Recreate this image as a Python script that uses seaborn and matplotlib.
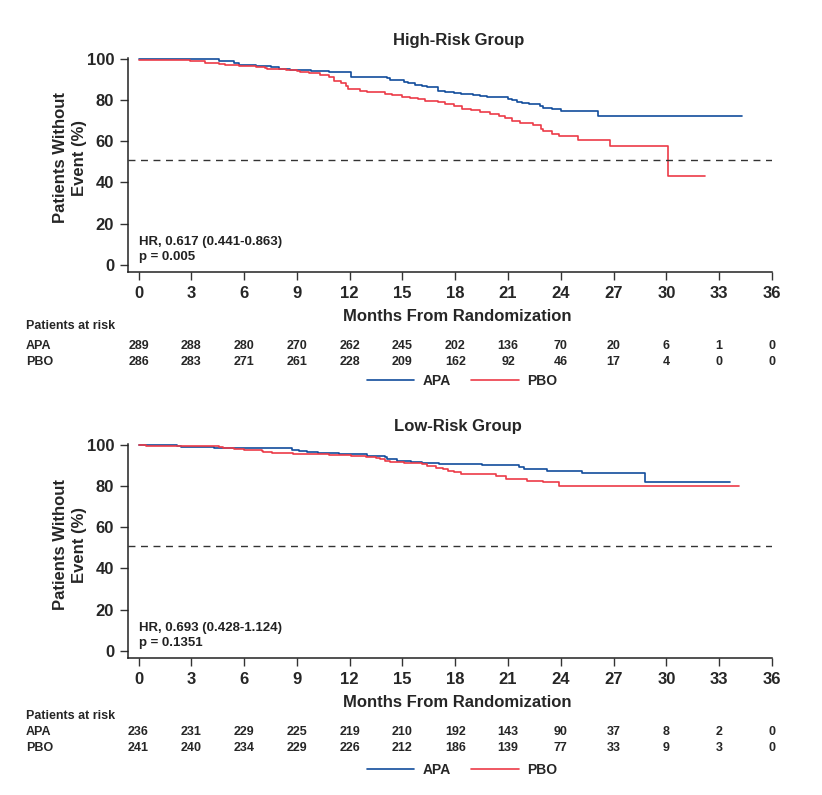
import numpy as np
import pandas as pd
import matplotlib
matplotlib.use('Agg')
import matplotlib.pyplot as plt
import matplotlib.transforms as mtransforms
from matplotlib.lines import Line2D
import seaborn as sns

# curvas KM (meses, % sin evento)
alto_apa_t = [0, 3.9, 4.6, 5.4, 5.7, 6.7, 7.5, 8.0, 8.6, 9.8, 10.8, 12.1, 14.1, 14.3, 15.1, 15.3,
              15.7, 16.1, 16.4, 17.0, 17.4, 17.9, 18.3, 19.0, 19.4, 19.8, 21.0, 21.2, 21.5, 21.8,
              22.2, 22.8, 23.0, 23.5, 24.0, 26.1, 34.3]
alto_apa_v = [100, 99.7, 98.9, 98.1, 97.1, 96.6, 96.1, 95.2, 94.7, 94.2, 93.7, 91.3, 90.7, 89.7, 88.6, 88.1,
              87.4, 86.8, 86.1, 84.2, 83.8, 83.3, 83.0, 82.6, 82.0, 81.3, 80.5, 80.0, 79.2, 78.7,
              78.1, 77.1, 76.2, 75.5, 74.5, 72.0, 72.0]
alto_pbo_t = [0, 1.3, 2.9, 3.8, 4.6, 4.9, 5.7, 6.7, 7.2, 7.3, 8.4, 9.0, 9.2, 9.7, 10.3, 10.8, 11.1,
              11.5, 11.8, 11.9, 12.6, 13.0, 14.0, 14.4, 15.0, 15.4, 15.9, 16.3, 17.0, 17.4, 17.9,
              18.4, 18.9, 19.4, 20.0, 20.5, 20.8, 21.2, 21.7, 22.4, 22.9, 23.0, 23.5, 23.9, 25.0,
              26.8, 30.1, 32.2]
alto_pbo_v = [99.5, 99.2, 98.7, 98.1, 97.4, 97.0, 96.6, 96.1, 95.5, 95.0, 94.7, 94.2, 93.7, 93.1, 92.3, 91.0, 89.3,
              88.0, 86.8, 85.2, 84.5, 83.6, 82.9, 82.4, 81.6, 81.0, 80.4, 79.7, 78.9, 78.1, 77.0,
              75.7, 74.9, 74.1, 73.3, 72.0, 71.3, 70.0, 68.9, 67.6, 66.0, 64.9, 63.6, 62.5, 60.4,
              57.5, 43.0, 43.0]

bajo_apa_t = [0, 2.2, 2.4, 4.3, 8.7, 9.1, 9.6, 10.2, 11.4, 13.0, 14.0, 14.1, 14.7, 15.5, 16.1, 17.1,
              19.5, 21.6, 21.9, 23.2, 25.2, 28.8, 33.6]
bajo_apa_v = [100, 99.4, 98.9, 98.4, 97.6, 97.1, 96.6, 96.0, 95.5, 94.7, 93.9, 93.1, 92.3, 91.8, 91.1, 90.5,
              89.9, 89.0, 88.2, 87.4, 86.3, 81.8, 81.8]
bajo_pbo_t = [0, 0.4, 4.6, 4.8, 5.4, 6.0, 7.0, 7.1, 7.6, 8.8, 10.8, 12.1, 12.9, 13.5, 13.7, 14.0, 14.3,
              15.1, 16.1, 16.4, 16.9, 17.3, 17.6, 17.9, 18.3, 20.3, 20.9, 22.1, 23.0, 23.9, 34.1]
bajo_pbo_v = [100, 99.4, 98.7, 98.2, 97.7, 97.3, 96.8, 96.3, 96.0, 95.5, 95.0, 94.4, 93.9, 93.4, 92.8, 92.3, 91.5,
              91.0, 90.5, 89.4, 88.7, 88.3, 87.4, 86.6, 85.8, 84.7, 83.4, 82.6, 81.8, 79.9, 79.9]

#pacientes en riesgo
meses_ticks = [0, 3, 6, 9, 12, 15, 18, 21, 24, 27, 30, 33, 36]
alto_riesgo_apa = [289, 288, 280, 270, 262, 245, 202, 136, 70, 20, 6, 1, 0]
alto_riesgo_pbo = [286, 283, 271, 261, 228, 209, 162, 92, 46, 17, 4, 0, 0]
bajo_riesgo_apa = [236, 231, 229, 225, 219, 210, 192, 143, 90, 37, 8, 2, 0]
bajo_riesgo_pbo = [241, 240, 234, 229, 226, 212, 186, 139, 77, 33, 9, 3, 0]

titulos = ['High-Risk Group', 'Low-Risk Group']
textos_hr = ['HR, 0.617 (0.441-0.863)\np = 0.005', 'HR, 0.693 (0.428-1.124)\np = 0.1351']
mediana = 51

color_apa = "#124d9c"
color_pbo = "#ec3b48"

sns.set_style("ticks")
plt.rcParams['font.family'] = ['Liberation Sans', 'DejaVu Sans']
fuente_tabla = ['Liberation Sans Narrow', 'Liberation Sans', 'DejaVu Sans']

def armar_df(t_apa, v_apa, t_pbo, v_pbo):
    a = pd.DataFrame({'mes': t_apa, 'pct': v_apa, 'brazo': 'APA'})
    b = pd.DataFrame({'mes': t_pbo, 'pct': v_pbo, 'brazo': 'PBO'})
    return pd.concat([a, b], ignore_index=True)

datos = [armar_df(alto_apa_t, alto_apa_v, alto_pbo_t, alto_pbo_v),
         armar_df(bajo_apa_t, bajo_apa_v, bajo_pbo_t, bajo_pbo_v)]
riesgo = [(alto_riesgo_apa, alto_riesgo_pbo), (bajo_riesgo_apa, bajo_riesgo_pbo)]

W, H = 822, 795
fig = plt.figure(figsize=(W / 100, H / 100), dpi=100)

# posiciones en pixeles (izq, arriba del eje=100, abajo del eje)
paneles = [(128, 58, 272), (128, 444, 658)]
filas_y = [(326, 346, 362), (716, 732, 748)]
leyenda_y = [381, 770]
ylabel_y = [0.535, 0.53]

for i in range(2):
    izq, arriba, abajo = paneles[i]
    ax = fig.add_axes([izq / W, (H - abajo) / H, (772 - izq) / W, (abajo - arriba) / H])
    sns.lineplot(data=datos[i], x='mes', y='pct', hue='brazo', palette=[color_apa, color_pbo],
                 drawstyle='steps-post', linewidth=1.2, ax=ax, legend=False, estimator=None)
    ax.axhline(mediana, color='#333333', linestyle=(0, (5, 4)), linewidth=1)
    ax.set_xlim(-0.6, 36)
    ax.set_ylim(-3.4, 100.3)
    ax.set_xticks(meses_ticks)
    ax.set_yticks(range(0, 101, 20))
    ax.tick_params(labelsize=12, length=6, width=1, color='#333333', pad=4)
    for lab in ax.get_xticklabels() + ax.get_yticklabels():
        lab.set_fontweight('bold')
    sns.despine(ax=ax)
    for s in ['left', 'bottom']:
        ax.spines[s].set_color('#222222')
        ax.spines[s].set_linewidth(1.1)
    ax.set_xlabel('Months From Randomization', fontsize=12, fontweight='bold')
    ax.xaxis.set_label_coords(0.512, -0.172)
    ax.set_ylabel('Patients Without\nEvent (%)', fontsize=12, fontweight='bold',
                  linespacing=1.35)
    ax.yaxis.set_label_coords(-0.064, ylabel_y[i])
    ax.set_title(titulos[i], fontsize=12, fontweight='bold', pad=9, x=0.513)
    ax.text(0.0, 7.5, textos_hr[i], fontsize=9.5, fontweight='bold', va='center', ha='left',
            linespacing=1.25, color='#222222')

    # tabla pacientes en riesgo
    trans = mtransforms.blended_transform_factory(ax.transData, fig.transFigure)
    y0, y1, y2 = filas_y[i]
    fig.text(26 / W, 1 - y0 / H, 'Patients at risk', fontsize=9, family=fuente_tabla,
             va='center', ha='left', fontweight='bold')
    fig.text(26 / W, 1 - y1 / H, 'APA', fontsize=9, family=fuente_tabla, va='center',
             ha='left', fontweight='bold')
    fig.text(26 / W, 1 - y2 / H, 'PBO', fontsize=9, family=fuente_tabla, va='center',
             ha='left', fontweight='bold')
    for m, na, nb in zip(meses_ticks, riesgo[i][0], riesgo[i][1]):
        ax.text(m, 1 - y1 / H, str(na), transform=trans, fontsize=9, family=fuente_tabla,
                ha='center', va='center', fontweight='bold')
        ax.text(m, 1 - y2 / H, str(nb), transform=trans, fontsize=9, family=fuente_tabla,
                ha='center', va='center', fontweight='bold')

    handles = [Line2D([], [], color=color_apa, linewidth=1.2),
               Line2D([], [], color=color_pbo, linewidth=1.2)]
    fig.legend(handles, ['APA', 'PBO'], ncol=2, loc='center',
               bbox_to_anchor=(462 / W, 1 - leyenda_y[i] / H), frameon=False,
               prop={'family': fuente_tabla, 'size': 10, 'weight': 'bold'},
               handlelength=3.4, columnspacing=1.5, handletextpad=0.6)

fig.savefig('out.png', dpi=100)
